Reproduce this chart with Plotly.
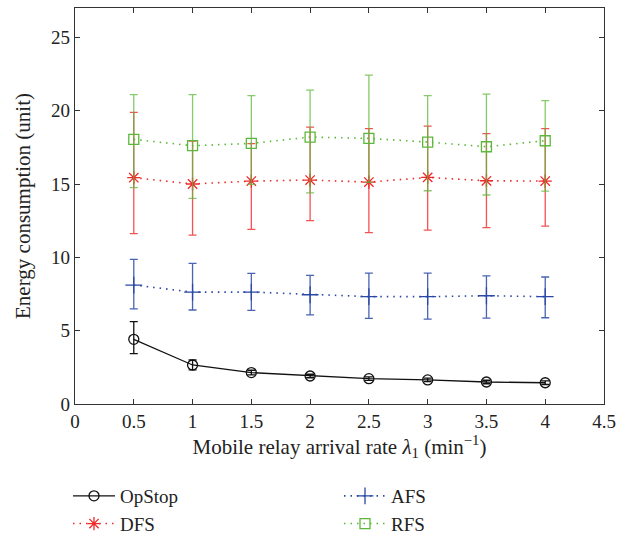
import plotly.graph_objects as go

# Mobile relay arrival rate (min^-1)
rates = [0.5, 1, 1.5, 2, 2.5, 3, 3.5, 4]

# Mean energy consumption and error-bar extents (upper / lower bounds)
opstop_mean = [4.41, 2.66, 2.14, 1.91, 1.73, 1.64, 1.50, 1.45]
opstop_high = [5.61, 3.00, 2.30, 2.03, 1.85, 1.76, 1.62, 1.57]
opstop_low = [3.43, 2.32, 1.98, 1.79, 1.61, 1.52, 1.38, 1.33]

dfs_mean = [15.43, 15.00, 15.20, 15.27, 15.13, 15.45, 15.22, 15.20]
dfs_high = [19.88, 17.93, 17.75, 18.88, 18.77, 18.95, 18.43, 18.77]
dfs_low = [11.61, 11.52, 11.91, 12.50, 11.68, 11.86, 12.02, 12.13]

afs_mean = [8.11, 7.63, 7.63, 7.45, 7.32, 7.32, 7.38, 7.32]
afs_high = [9.86, 9.59, 8.91, 8.77, 8.93, 8.93, 8.73, 8.66]
afs_low = [6.48, 6.41, 6.39, 6.07, 5.84, 5.79, 5.86, 5.88]

rfs_mean = [18.04, 17.61, 17.77, 18.20, 18.11, 17.86, 17.54, 17.95]
rfs_high = [21.09, 21.09, 21.02, 21.40, 22.43, 21.02, 21.13, 20.68]
rfs_low = [14.75, 14.02, 14.98, 14.40, 15.11, 14.54, 14.25, 14.52]

x_ticks = [0, 0.5, 1, 1.5, 2, 2.5, 3, 3.5, 4, 4.5]
y_ticks = [0, 5, 10, 15, 20, 25]

FONT = "Liberation Serif"
TEXT = "#222222"


def series(name, mean, high, low, line_color, bar_color, symbol, size, dash, legend):
    plus = [h - m for h, m in zip(high, mean)]
    minus = [m - l for m, l in zip(mean, low)]
    return go.Scatter(
        x=rates, y=mean, name=name, mode="lines+markers",
        line=dict(color=line_color, width=1.3 if dash == "solid" else 1.6, dash=dash),
        marker=dict(symbol=symbol, size=size, color=line_color,
                    line=dict(color=line_color, width=1.3)),
        error_y=dict(type="data", symmetric=False, array=plus, arrayminus=minus,
                     color=bar_color, thickness=1.3, width=4),
        legend=legend,
    )


fig = go.Figure()
fig.add_trace(series("OpStop", opstop_mean, opstop_high, opstop_low,
                     "#111111", "#111111", "circle-open", 10, "solid", "legend"))
fig.add_trace(series("DFS", dfs_mean, dfs_high, dfs_low,
                     "#f02828", "rgba(240,40,40,0.8)", "asterisk-open", 11, "1.5px,5px", "legend"))
fig.add_trace(series("AFS", afs_mean, afs_high, afs_low,
                     "#2a48a6", "rgba(42,72,166,0.85)", "cross-thin-open", 12, "1.5px,5px", "legend2"))
fig.add_trace(series("RFS", rfs_mean, rfs_high, rfs_low,
                     "#5cb83a", "rgba(92,184,58,0.75)", "square-open", 10, "1.5px,5px", "legend2"))

axis_common = dict(
    showline=True, linecolor="#333333", linewidth=1.2, mirror="ticks",
    ticks="inside", ticklen=5, tickwidth=1.2, tickcolor="#333333",
    showgrid=False, zeroline=False,
    tickfont=dict(family=FONT, size=19, color=TEXT),
)

fig.update_xaxes(
    range=[0, 4.5], tickvals=x_ticks, ticktext=[f"{v:g}" for v in x_ticks],
    tickangle=0,
    title=dict(text="Mobile relay arrival rate <i>λ</i><sub>1</sub> (min<sup>−1</sup>)",
               font=dict(family=FONT, size=21, color=TEXT), standoff=6),
    **axis_common,
)
fig.update_yaxes(
    range=[0, 27], tickvals=y_ticks,
    title=dict(text="Energy consumption (unit)",
               font=dict(family=FONT, size=21, color=TEXT), standoff=14),
    **axis_common,
)

# plot area spans 529 x 396 px; legends sit below it in paper units
PLOT_W, PLOT_H = 529, 396
legend_common = dict(
    orientation="v", xref="paper", yref="paper",
    xanchor="left", yanchor="top", y=-73 / PLOT_H,
    font=dict(family=FONT, size=19, color=TEXT),
    bgcolor="rgba(0,0,0,0)", tracegroupgap=0, itemwidth=42,
)

fig.update_layout(
    width=634, height=535,
    margin=dict(l=75, r=30, t=8, b=131, autoexpand=False),
    paper_bgcolor="white", plot_bgcolor="white",
    showlegend=True,
    legend=dict(x=-7 / PLOT_W, **legend_common),
    legend2=dict(x=264 / PLOT_W, **legend_common),
)

fig.write_html("out.html")
